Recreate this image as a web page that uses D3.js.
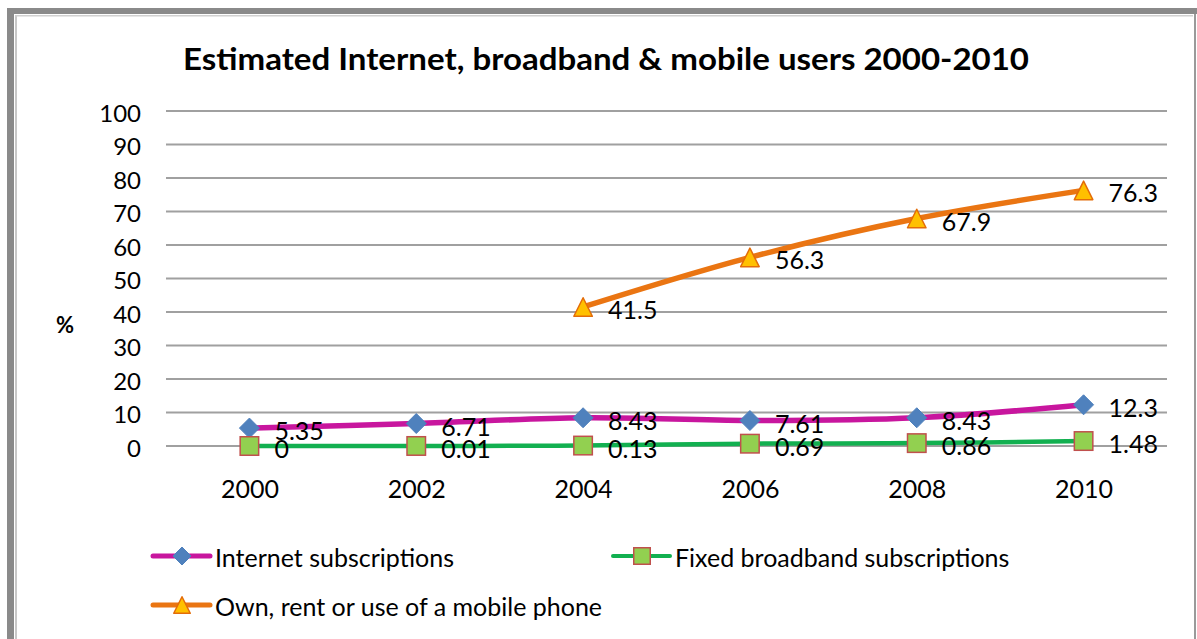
<!DOCTYPE html>
<html>
<head>
<meta charset="utf-8">
<script src="https://cdn.jsdelivr.net/npm/d3@7"></script>
<style>
  html, body { margin: 0; padding: 0; background: #fff; }
  svg { display: block; }
  text { font-family: Lato, "Open Sans", "Liberation Sans", sans-serif; fill: #000; }
</style>
</head>
<body>
<svg id="chart" width="1197" height="639"></svg>
<script>
// Survey years on the category axis
const years = ["2000", "2002", "2004", "2006", "2008", "2010"];
// Percentage of population, per series (null = not surveyed)
const internetSubs = [5.35, 6.71, 8.43, 7.61, 8.43, 12.3];
const broadbandSubs = [0, 0.01, 0.13, 0.69, 0.86, 1.48];
const mobilePhone = [null, null, 41.5, 56.3, 67.9, 76.3];
const yTicks = [0, 10, 20, 30, 40, 50, 60, 70, 80, 90, 100];
const seriesNames = ["Internet subscriptions", "Fixed broadband subscriptions", "Own, rent or use of a mobile phone"];

const svg = d3.select("#chart");
const FONT = "Lato, 'Open Sans', sans-serif";

// Outer frame
svg.append("rect").attr("x", 7).attr("y", 8).attr("width", 1190).attr("height", 6).attr("fill", "#8a8a8a");
svg.append("rect").attr("x", 7).attr("y", 8).attr("width", 7).attr("height", 631).attr("fill", "#8a8a8a");
svg.append("rect").attr("x", 15).attr("y", 15).attr("width", 2).attr("height", 624).attr("fill", "#c8c8c8");
svg.append("rect").attr("x", 15).attr("y", 15).attr("width", 1178).attr("height", 1.5).attr("fill", "#d0d0d0");
svg.append("rect").attr("x", 1194).attr("y", 14).attr("width", 2).attr("height", 625).attr("fill", "#9a9a9a");

const plot = { left: 166, right: 1167, top: 111, bottom: 446 };

const x = d3.scalePoint().domain(years).range([plot.left, plot.right]).padding(0.5);
const y = d3.scaleLinear().domain([0, 100]).range([plot.bottom, plot.top]);

// Title
svg.append("text")
  .attr("x", 606).attr("y", 70)
  .attr("text-anchor", "middle")
  .attr("font-size", 31).attr("font-weight", "bold")
  .attr("textLength", 846).attr("lengthAdjust", "spacingAndGlyphs")
  .text("Estimated Internet, broadband & mobile users 2000-2010");

// Gridlines
svg.append("g").selectAll("line").data(yTicks).join("line")
  .attr("x1", plot.left).attr("x2", plot.right)
  .attr("y1", d => y(d)).attr("y2", d => y(d))
  .attr("stroke", "#a0a0a0").attr("stroke-width", 1.8);

// Y axis labels
const yAxis = d3.axisLeft(y).tickValues(yTicks).tickSize(0).tickPadding(0);
const gy = svg.append("g").attr("transform", "translate(141,0)").call(yAxis);
gy.select(".domain").remove();
gy.selectAll("text").attr("font-size", 24).attr("font-family", FONT).attr("fill", "#000").attr("dy", "0.42em");

// X axis labels
const xAxis = d3.axisBottom(x).tickSize(0).tickPadding(0);
const gx = svg.append("g").attr("transform", "translate(0,479)").call(xAxis);
gx.select(".domain").remove();
gx.selectAll("text").attr("font-size", 25).attr("font-family", FONT).attr("fill", "#000").attr("dy", "0.74em");

// Y axis title
svg.append("text").attr("x", 65).attr("y", 333).attr("text-anchor", "middle")
  .attr("font-size", 22).attr("font-weight", "bold").text("%");

const series = [
  { name: seriesNames[0], values: internetSubs, line: "#c8169e", width: 5.5, shape: "diamond" },
  { name: seriesNames[1], values: broadbandSubs, line: "#12b050", width: 4.5, shape: "square" },
  { name: seriesNames[2], values: mobilePhone, line: "#ea7512", width: 5.5, shape: "triangle" }
];

// Marker glyphs; size is the full marker width in pixels
function drawMarker(g, shape, size) {
  const h = size / 2;
  if (shape === "diamond") {
    g.append("path").attr("d", `M0,${-h}L${h},0L0,${h}L${-h},0Z`).attr("fill", "#4f81bd").attr("stroke", "#4f81bd").attr("stroke-width", 1);
  } else if (shape === "square") {
    const s = h - 0.75;
    g.append("rect").attr("x", -s).attr("y", -s).attr("width", 2 * s).attr("height", 2 * s)
      .attr("fill", "#92d050").attr("stroke", "#c0504d").attr("stroke-width", 1.5);
  } else {
    const s = h - 0.75;
    g.append("path").attr("d", `M0,${-s}L${s},${s}L${-s},${s}Z`)
      .attr("fill", "#ffc000").attr("stroke", "#e36c09").attr("stroke-width", 1.5).attr("stroke-linejoin", "round");
  }
}

const line = d3.line()
  .defined(d => d.v !== null)
  .x(d => x(d.year)).y(d => y(d.v))
  .curve(d3.curveCatmullRom.alpha(0.5));

series.forEach(s => {
  const pts = years.map((yr, i) => ({ year: yr, v: s.values[i] }));
  svg.append("path").datum(pts)
    .attr("d", line)
    .attr("fill", "none").attr("stroke", s.line).attr("stroke-width", s.width)
    .attr("stroke-linecap", "round").attr("stroke-linejoin", "round");
});

series.forEach(s => {
  const pts = years.map((yr, i) => ({ year: yr, v: s.values[i] })).filter(d => d.v !== null);
  pts.forEach(d => {
    const m = svg.append("g").attr("transform", `translate(${x(d.year)},${y(d.v)})`);
    drawMarker(m, s.shape, 20);
  });
  pts.forEach(d => {
    svg.append("text").attr("x", x(d.year) + 25).attr("y", y(d.v) + 12)
      .attr("font-size", 25).text(d.v);
  });
});

// Legend
const legendItems = [
  { s: series[0], x: 153, y: 556 },
  { s: series[1], x: 613, y: 556 },
  { s: series[2], x: 153, y: 605 }
];
legendItems.forEach(it => {
  const g = svg.append("g").attr("transform", `translate(${it.x},${it.y})`);
  g.append("line").attr("x1", 0).attr("x2", 57).attr("y1", 0).attr("y2", 0)
    .attr("stroke", it.s.line).attr("stroke-width", it.s.width - 0.5).attr("stroke-linecap", "round");
  const m = g.append("g").attr("transform", "translate(29,0)");
  drawMarker(m, it.s.shape, 18);
  g.append("text").attr("x", 62).attr("y", 11).attr("font-size", 25).text(it.s.name);
});
</script>
</body>
</html>
